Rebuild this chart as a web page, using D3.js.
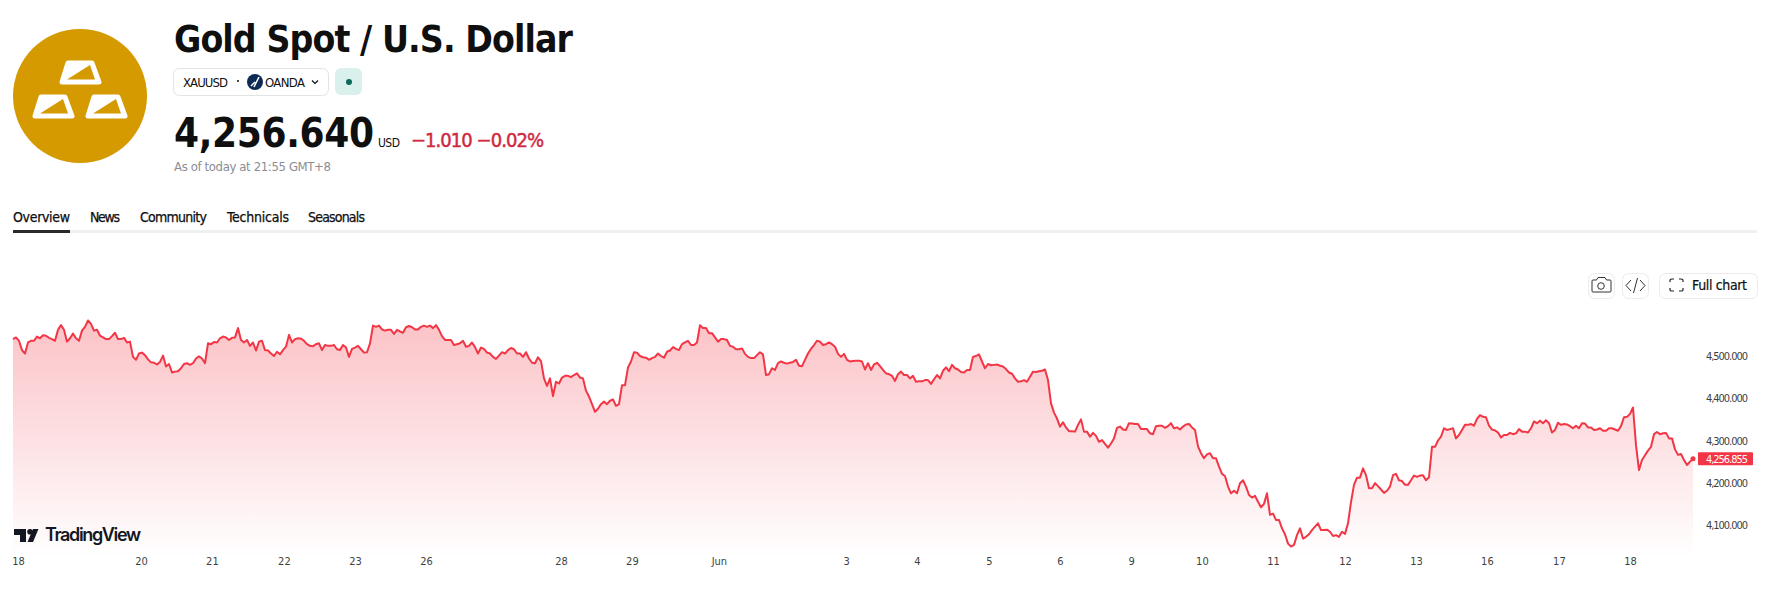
<!DOCTYPE html>
<html><head><meta charset="utf-8">
<script src="https://cdn.jsdelivr.net/npm/d3@7"></script>
<style>html,body{margin:0;padding:0;background:#fff;overflow:hidden}svg{display:block}
text{font-family:"DejaVu Sans Condensed","DejaVu Sans",sans-serif}</style></head>
<body><svg id="c" width="1778" height="592"></svg>
<script>
const prices=[
4540,4544,4536,4514,4506,4532,4536,4536,4546,4542,4549,4548,4543,4540,4536,4562,4573,4562,4534,4542,
4553,4542,4536,4560,4569,4584,4576,4560,4562,4548,4544,4540,4540,4547,4555,4540,4540,4543,4532,4534,
4498,4491,4506,4508,4502,4492,4485,4484,4480,4486,4501,4475,4481,4461,4463,4464,4471,4481,4483,4479,
4483,4494,4499,4494,4483,4530,4528,4533,4532,4542,4546,4544,4538,4543,4544,4566,4538,4532,4538,4524,
4532,4513,4534,4536,4514,4513,4506,4500,4510,4504,4514,4522,4550,4532,4540,4542,4541,4536,4528,4524,
4523,4528,4530,4514,4526,4524,4524,4526,4516,4514,4526,4520,4498,4517,4520,4524,4516,4508,4509,4530,
4572,4569,4572,4563,4560,4562,4562,4552,4562,4558,4555,4568,4571,4568,4563,4563,4569,4572,4569,4572,
4566,4573,4562,4547,4538,4538,4538,4526,4528,4530,4536,4522,4524,4532,4521,4506,4520,4517,4508,4506,
4498,4493,4501,4509,4506,4514,4519,4516,4506,4506,4498,4509,4494,4484,4483,4497,4488,4447,4429,4447,
4405,4439,4435,4449,4453,4453,4450,4455,4459,4449,4447,4418,4404,4386,4368,4375,4386,4392,4386,4394,
4397,4382,4386,4431,4431,4473,4487,4509,4508,4500,4497,4496,4491,4495,4498,4506,4500,4496,4510,4513,
4521,4517,4514,4528,4532,4536,4526,4526,4532,4573,4566,4566,4554,4554,4544,4534,4540,4540,4538,4524,
4522,4516,4516,4518,4505,4498,4495,4495,4502,4509,4504,4455,4457,4471,4467,4483,4487,4484,4482,4484,
4486,4491,4477,4476,4491,4506,4517,4526,4536,4534,4526,4528,4532,4528,4522,4505,4498,4505,4491,4487,
4488,4489,4489,4487,4468,4483,4467,4480,4484,4476,4467,4459,4457,4453,4441,4457,4463,4455,4455,4447,
4453,4439,4440,4440,4443,4443,4434,4445,4455,4447,4465,4473,4464,4479,4471,4468,4462,4461,4467,4467,
4498,4500,4504,4487,4471,4481,4478,4479,4480,4477,4475,4469,4461,4458,4447,4439,4440,4443,4439,4451,
4463,4462,4464,4465,4468,4443,4388,4366,4352,4333,4343,4331,4322,4322,4321,4337,4350,4321,4321,4309,
4318,4311,4297,4301,4292,4283,4293,4305,4330,4333,4326,4325,4341,4340,4339,4339,4327,4327,4327,4317,
4315,4334,4335,4335,4330,4334,4341,4329,4331,4326,4333,4338,4339,4331,4325,4286,4270,4258,4267,4270,
4258,4258,4238,4221,4216,4191,4175,4181,4175,4199,4206,4191,4171,4165,4169,4155,4142,4150,4175,4124,
4127,4112,4112,4092,4078,4056,4049,4053,4076,4092,4068,4072,4078,4088,4096,4104,4088,4088,4089,4084,
4074,4076,4072,4084,4079,4104,4154,4195,4212,4212,4234,4218,4187,4187,4199,4192,4184,4176,4181,4191,
4218,4221,4206,4204,4195,4195,4206,4217,4214,4217,4218,4206,4213,
4285,4285,4300,4309,4329,4325,4327,4329,4305,4313,4325,4337,4337,4339,4335,4351,4360,4356,4355,4335,
4326,4324,4319,4307,4313,4313,4318,4315,4317,4327,4321,4321,4319,4329,4345,4341,4347,4341,4348,4341,
4319,4325,4342,4337,4339,4338,4334,4329,4335,4329,4341,4340,4331,4331,4325,4326,4329,4323,4323,4329,
4329,4326,4323,4334,4355,4356,4363,4378,4289,4230,4254,4265,4276,4285,4315,4320,4315,4317,4318,4305,
4305,4279,4266,4268,4254,4242,4250,4257];
const lastPrice=4256.855;
const tickBars=[1.7,42.7,66.3,90.3,114,137.7,182.7,206.3,235.3,277.7,301.3,325.3,349,372.7,396.3,420,444,467.7,491.3,515.3,539];
const tickLabels=["18","20","21","22","23","26","28","29","Jun","3","4","5","6","9","10","11","12","13","16","17","18"];
const priceTicks=[4100,4200,4300,4400,4500];
const tabs=["Overview","News","Community","Technicals","Seasonals"];
const tabX=[13,90,140,227,308];
const tabW=[57,30,67,62,57];

const svg=d3.select("#c");
const W={l:13,r:1693,t:356,b:525,base:557};
const x=d3.scaleLinear().domain([0,prices.length-1]).range([W.l,W.r]);
const y=d3.scaleLinear().domain([4100,4500]).range([W.b,W.t]);
const defs=svg.append("defs");
const g=defs.append("linearGradient").attr("id","fill").attr("gradientUnits","userSpaceOnUse")
 .attr("x1",0).attr("x2",0).attr("y1",322).attr("y2",W.base);
g.append("stop").attr("offset",0).attr("stop-color","#f23645").attr("stop-opacity",.3);
g.append("stop").attr("offset",1).attr("stop-color","#f23645").attr("stop-opacity",0);

// chart
svg.append("path").datum(prices).attr("fill","url(#fill)")
 .attr("d",d3.area().x((d,i)=>x(i)).y0(W.base).y1(d=>y(d)));
svg.append("path").datum(prices).attr("fill","none").attr("stroke","#f23645").attr("stroke-width",2).attr("stroke-linejoin","round")
 .attr("d",d3.line().x((d,i)=>x(i)).y(d=>y(d)));
svg.append("circle").attr("cx",x(prices.length-1)).attr("cy",y(lastPrice)).attr("r",2.5).attr("fill","#f23645");

// axes
const ax=svg.append("g").attr("transform","translate(0,557)")
 .call(d3.axisBottom(x).tickValues(tickBars).tickFormat((d,i)=>tickLabels[i]).tickSize(0).tickPadding(0));
ax.select(".domain").remove();
ax.selectAll("text").attr("fill","#3f3f3f").style("font-size","11px").attr("dy","0.71em");
const ay=svg.append("g").attr("transform","translate(1706,0)")
 .call(d3.axisRight(y).tickValues(priceTicks).tickFormat(d3.format(",.3f")).tickSize(0).tickPadding(0));
ay.select(".domain").remove();
ay.selectAll("text").attr("fill","#3f3f3f").style("font-size","11px").style("font-family","'DejaVu Sans Condensed'").attr("textLength",42);
svg.append("rect").attr("x",1698).attr("y",y(lastPrice)-6.5).attr("width",55).attr("height",13).attr("rx",1).attr("fill","#f23645");
svg.append("text").attr("x",1706).attr("y",y(lastPrice)).attr("dy","0.36em").attr("fill","#fff")
 .style("font-size","11px").style("font-family","'DejaVu Sans Condensed'").attr("textLength",42).text(d3.format(",.3f")(lastPrice));

// TradingView mark
const tv=svg.append("g").attr("fill","#131722");
tv.append("path").attr("d","M14 529H26V542H20V535H14Z");
tv.append("circle").attr("cx",30).attr("cy",531.8).attr("r",2.8);
tv.append("path").attr("d","M33 529H38.5L33 542H27.5Z");
tv.append("text").attr("x",45).attr("y",541).attr("font-size",18).attr("font-weight",600).style("font-family","Inter").attr("textLength",96).text("TradingView");

// header logo
svg.append("circle").attr("cx",80).attr("cy",96).attr("r",67).attr("fill","#d59a00");
[[59,60],[32,94],[85,94]].forEach(o=>{
 const b=svg.append("g").attr("transform",`translate(${o[0]},${o[1]})`);
 b.append("path").attr("d","M9 3H33L40 22H3Z").attr("fill","#fff").attr("stroke","#fff").attr("stroke-width",5).attr("stroke-linejoin","round");
 b.append("path").attr("d","M31 5L36 19.5H8Z").attr("fill","#d59a00");
});

// header text
svg.append("text").attr("x",174).attr("y",52).attr("font-size",37).attr("font-weight",700).attr("fill","#0f0f0f").attr("textLength",399).text("Gold Spot / U.S. Dollar");
svg.append("rect").attr("x",173.5).attr("y",68.5).attr("width",155).attr("height",27).attr("rx",6).attr("fill","#fff").attr("stroke","#e3e3e3");
svg.append("text").attr("x",183).attr("y",86.5).attr("font-size",13).attr("fill","#0f0f0f").attr("textLength",45).text("XAUUSD");
svg.append("circle").attr("cx",238).attr("cy",81).attr("r",1).attr("fill","#0f0f0f");
svg.append("circle").attr("cx",255).attr("cy",82).attr("r",8).attr("fill","#0d2a54");
svg.append("path").attr("d","M251 86L255 82M254 87L259 77").attr("stroke","#fff").attr("stroke-width",1.5).attr("fill","none");
svg.append("text").attr("x",265).attr("y",86.5).attr("font-size",13).attr("fill","#0f0f0f").attr("textLength",40).text("OANDA");
svg.append("path").attr("d","M312 80.5L315 83.5L318 80.5").attr("stroke","#0f0f0f").attr("stroke-width",1.2).attr("fill","none");
svg.append("rect").attr("x",335).attr("y",68).attr("width",27).attr("height",27).attr("rx",6).attr("fill","#daf0ec");
svg.append("circle").attr("cx",349).attr("cy",82).attr("r",3).attr("fill","#0b6b57");
svg.append("text").attr("x",174).attr("y",147).attr("font-size",40).attr("font-weight",700).attr("fill","#0f0f0f").attr("textLength",200).text("4,256.640");
svg.append("text").attr("x",378).attr("y",147).attr("font-size",12).attr("fill","#0f0f0f").attr("textLength",22).text("USD");
svg.append("text").attr("x",411).attr("y",147).attr("font-size",20).attr("fill","#d0293f").attr("stroke","#d0293f").attr("stroke-width",.45).attr("textLength",133).text("−1.010 −0.02%");
svg.append("text").attr("x",174).attr("y",171).attr("font-size",13).attr("fill","#8a8d95").attr("textLength",157).text("As of today at 21:55 GMT+8");

// tabs
svg.selectAll(".tab").data(tabs).join("text").attr("class","tab").attr("x",(d,i)=>tabX[i]).attr("y",222).attr("font-size",14).attr("fill","#0f0f0f").attr("stroke","#0f0f0f").attr("stroke-width",.25).attr("textLength",(d,i)=>tabW[i]).text(d=>d);
svg.append("rect").attr("x",13).attr("y",230).attr("width",1744).attr("height",3).attr("fill","#f0f0f0");
svg.append("rect").attr("x",13).attr("y",230).attr("width",57).attr("height",3).attr("fill","#2a2a2a");

// buttons
[[1588,27],[1622,27],[1659,99]].forEach(b=>svg.append("rect").attr("x",b[0]+.5).attr("y",273.5).attr("width",b[1]-1).attr("height",25).attr("rx",6).attr("fill","#fff").attr("stroke","#ebebeb"));
svg.append("path").attr("d","M1593 280H1596.5L1598 277.5H1605L1606.5 280H1610Q1611 280 1611 281V291Q1611 292 1610 292H1593Q1592 292 1592 291V281Q1592 280 1593 280Z").attr("fill","none").attr("stroke","#333").attr("stroke-width",1);
svg.append("circle").attr("cx",1601).attr("cy",286).attr("r",3.3).attr("fill","none").attr("stroke","#333");
svg.append("path").attr("d","M1631 280L1626 285.5L1631 291M1640 280L1645 285.5L1640 291M1637.5 278L1633.5 293").attr("fill","none").attr("stroke","#333").attr("stroke-width",1);
svg.append("path").attr("d","M1670 282V280Q1670 279 1672 279H1674M1679 279H1681Q1683 279 1683 280V282M1683 288V290Q1683 291 1681 291H1679M1674 291H1672Q1670 291 1670 290V288").attr("fill","none").attr("stroke","#222").attr("stroke-width",1.2);
svg.append("text").attr("x",1692).attr("y",290).attr("font-size",14).attr("fill","#0f0f0f").attr("stroke","#0f0f0f").attr("stroke-width",.2).attr("textLength",55).text("Full chart");
</script></body></html>
